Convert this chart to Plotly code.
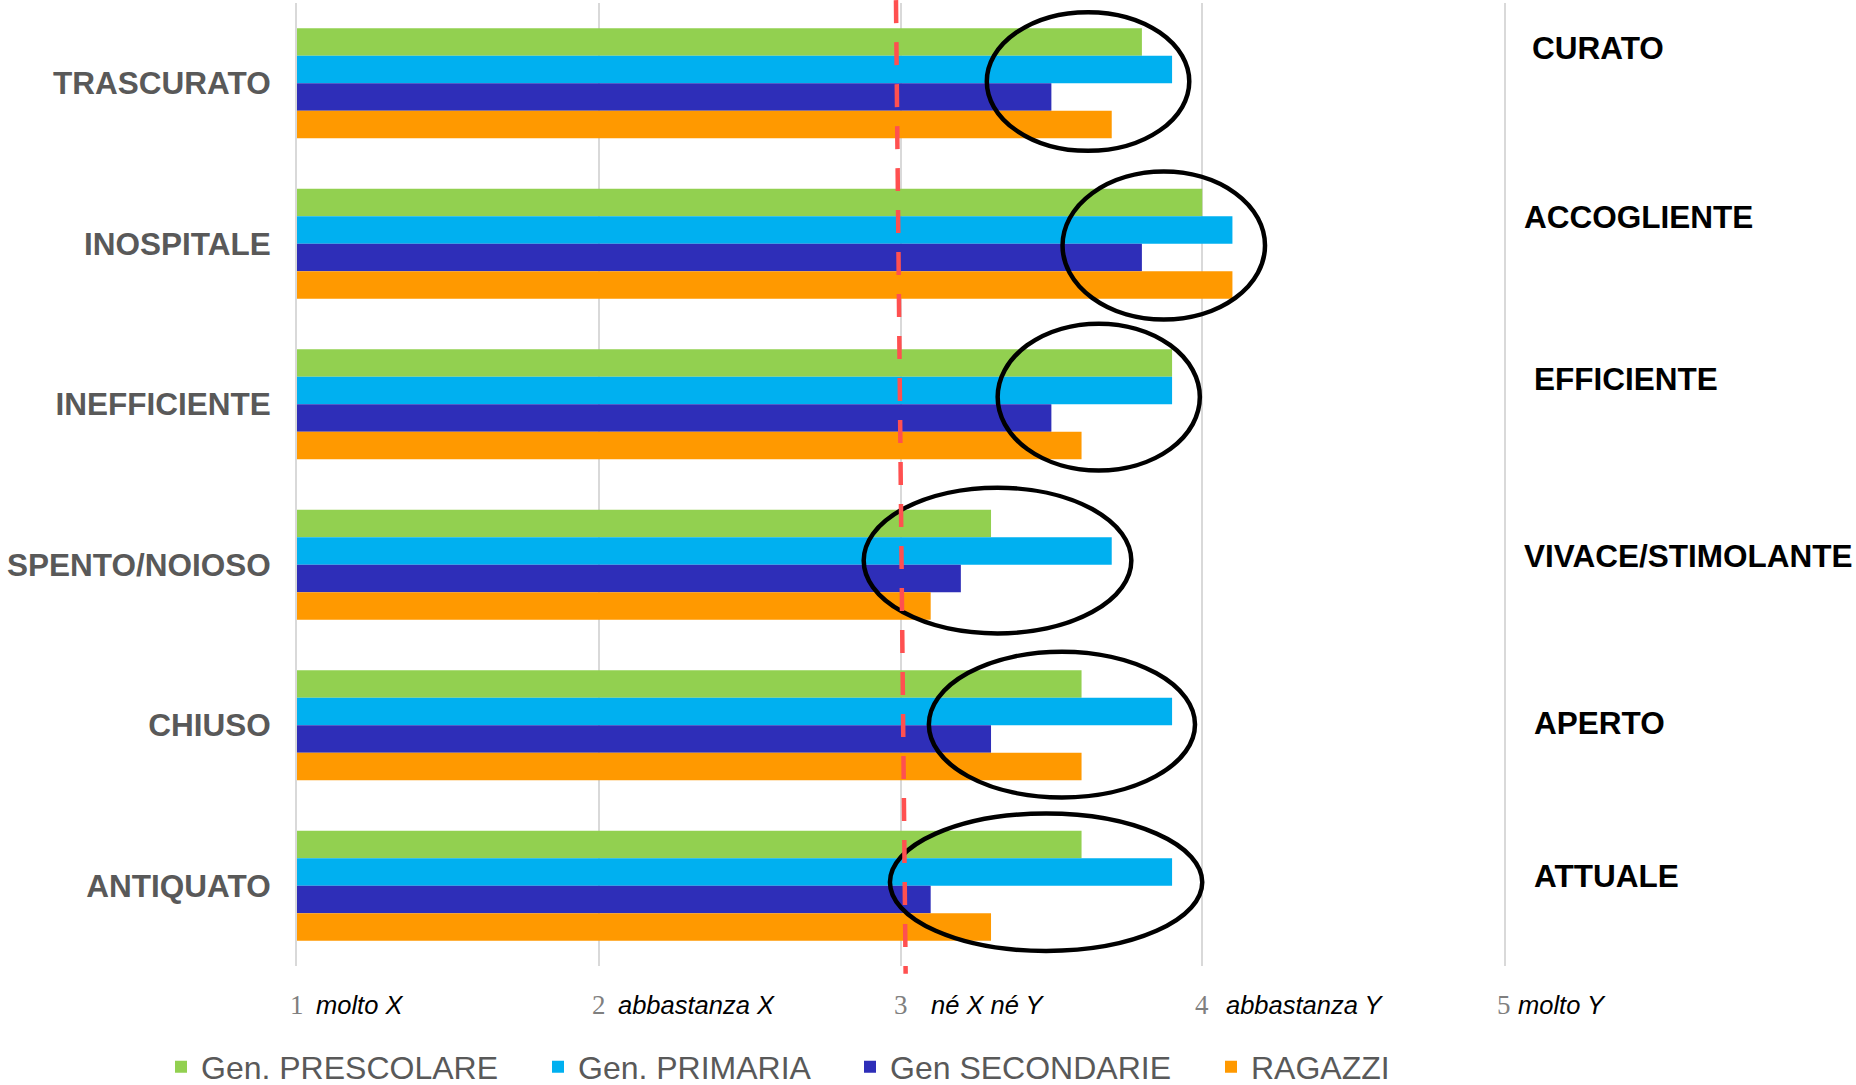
import plotly.graph_objects as go

# ---------------- data ----------------
categories = ["TRASCURATO", "INOSPITALE", "INEFFICIENTE", "SPENTO/NOIOSO", "CHIUSO", "ANTIQUATO"]
opposites = ["CURATO", "ACCOGLIENTE", "EFFICIENTE", "VIVACE/STIMOLANTE", "APERTO", "ATTUALE"]

series_names = ["Gen. PRESCOLARE", "Gen. PRIMARIA", "Gen SECONDARIE", "RAGAZZI"]
prescolare = [3.8, 4.0, 3.9, 3.3, 3.6, 3.6]
primaria = [3.9, 4.1, 3.9, 3.7, 3.9, 3.9]
secondarie = [3.5, 3.8, 3.5, 3.2, 3.3, 3.1]
ragazzi = [3.7, 4.1, 3.6, 3.1, 3.6, 3.3]
series_values = [prescolare, primaria, secondarie, ragazzi]

tick_values = [1, 2, 3, 4, 5]
tick_numbers = ["1", "2", "3", "4", "5"]
tick_texts = ["molto X", "abbastanza X", "né X né Y", "abbastanza Y", "molto Y"]

# ---------------- styles / layout constants ----------------
series_colors = ["#92D050", "#00B0F0", "#2E2EB8", "#FF9900"]
W, H = 1856, 1085
L, R, T, B = 297, 352, 3, 119
FONT = "Liberation Sans, Arial, sans-serif"

legend_px_x = [161, 538, 850, 1211]
legend_px_y = 1067

tick_text_shift = [17, 17, 28, 22, 12]
tick_label_py = 1005

right_label_px = [(1530, 48), (1522, 217), (1532, 379), (1522, 556), (1532, 723), (1532, 876)]

# ellipses (x0, x1 in value units; y0, y1 in category index units)
ellipses = [
    (3.286, 3.957, -0.443, 0.421),
    (3.537, 4.208, 0.550, 1.472),
    (3.322, 3.992, 1.498, 2.413),
    (2.878, 3.765, 2.520, 3.428),
    (3.094, 3.976, 3.542, 4.450),
    (2.965, 4.000, 4.550, 5.406),
]

plot_w = W - L - R
plot_h = H - T - B

def px_to_paper_x(px):
    return (px - L) / plot_w

def py_to_paper_y(py):
    return (H - B - py) / plot_h

fig = go.Figure()
legend_keys = ["legend", "legend2", "legend3", "legend4"]
for i, (name, vals, col) in enumerate(zip(series_names, series_values, series_colors)):
    fig.add_trace(go.Bar(
        y=categories, x=vals, name=name, orientation="h",
        marker=dict(color=col, line=dict(width=0)),
        legend=legend_keys[i],
    ))

legends = {}
for i, key in enumerate(legend_keys):
    legends[key] = dict(
        x=legend_px_x[i] / W, xref="container", xanchor="left",
        y=1 - legend_px_y / H, yref="container", yanchor="middle",
        orientation="h", bgcolor="rgba(0,0,0,0)", borderwidth=0,
        font=dict(family=FONT, size=32, color="#595959"),
    )

shapes = []
for (x0, x1, y0, y1) in ellipses:
    shapes.append(dict(type="circle", xref="x", yref="y", x0=x0, x1=x1, y0=y0, y1=y1,
                       line=dict(color="black", width=4.5), layer="above"))
shapes.append(dict(type="line", xref="x", yref="paper", x0=2.985, y0=1.003, x1=3.017, y1=-0.008,
                   line=dict(color="#FF5050", width=4.5, dash="23px,19px"), layer="above"))

annotations = []
for v, num, txt, sh in zip(tick_values, tick_numbers, tick_texts, tick_text_shift):
    annotations.append(dict(x=v, xref="x", y=py_to_paper_y(tick_label_py), yref="paper",
                            text=num, showarrow=False, xanchor="center", yanchor="middle",
                            font=dict(family="Liberation Serif, Times New Roman, serif", size=27, color="#7F7F7F")))
    annotations.append(dict(x=v, xref="x", xshift=sh, y=py_to_paper_y(tick_label_py), yref="paper",
                            text="<i>" + txt + "</i>", showarrow=False, xanchor="left", yanchor="middle",
                            font=dict(family=FONT, size=25.5, color="black")))
for txt, (px, py) in zip(opposites, right_label_px):
    annotations.append(dict(x=px_to_paper_x(px), xref="paper", y=py_to_paper_y(py), yref="paper",
                            text=txt, showarrow=False, xanchor="left", yanchor="middle",
                            font=dict(family=FONT, size=31.5, color="black", weight="bold")))

fig.update_layout(
    width=W, height=H,
    margin=dict(l=L, r=R, t=T, b=B, pad=0, autoexpand=False),
    paper_bgcolor="white", plot_bgcolor="white",
    barmode="group", bargap=0.314, bargroupgap=0,
    showlegend=True,
    shapes=shapes, annotations=annotations,
    **legends,
)
fig.update_xaxes(range=[1, 5], tickvals=tick_values, showticklabels=False,
                 showgrid=True, gridcolor="#D9D9D9", gridwidth=2, zeroline=False,
                 showline=False, ticks="", automargin=False)
fig.update_yaxes(type="category", categoryorder="array", categoryarray=categories,
                 range=[5.5, -0.5], showgrid=False, zeroline=False, ticks="",
                 showline=True, linecolor="#D9D9D9", linewidth=2, mirror=True,
                 ticklabelstandoff=18, automargin=False,
                 tickfont=dict(family=FONT, size=31.5, color="#595959", weight="bold"))

fig.write_html("out.html", config={"displayModeBar": False},
               post_script="document.body.style.margin='0px';document.body.style.overflow='hidden';")
